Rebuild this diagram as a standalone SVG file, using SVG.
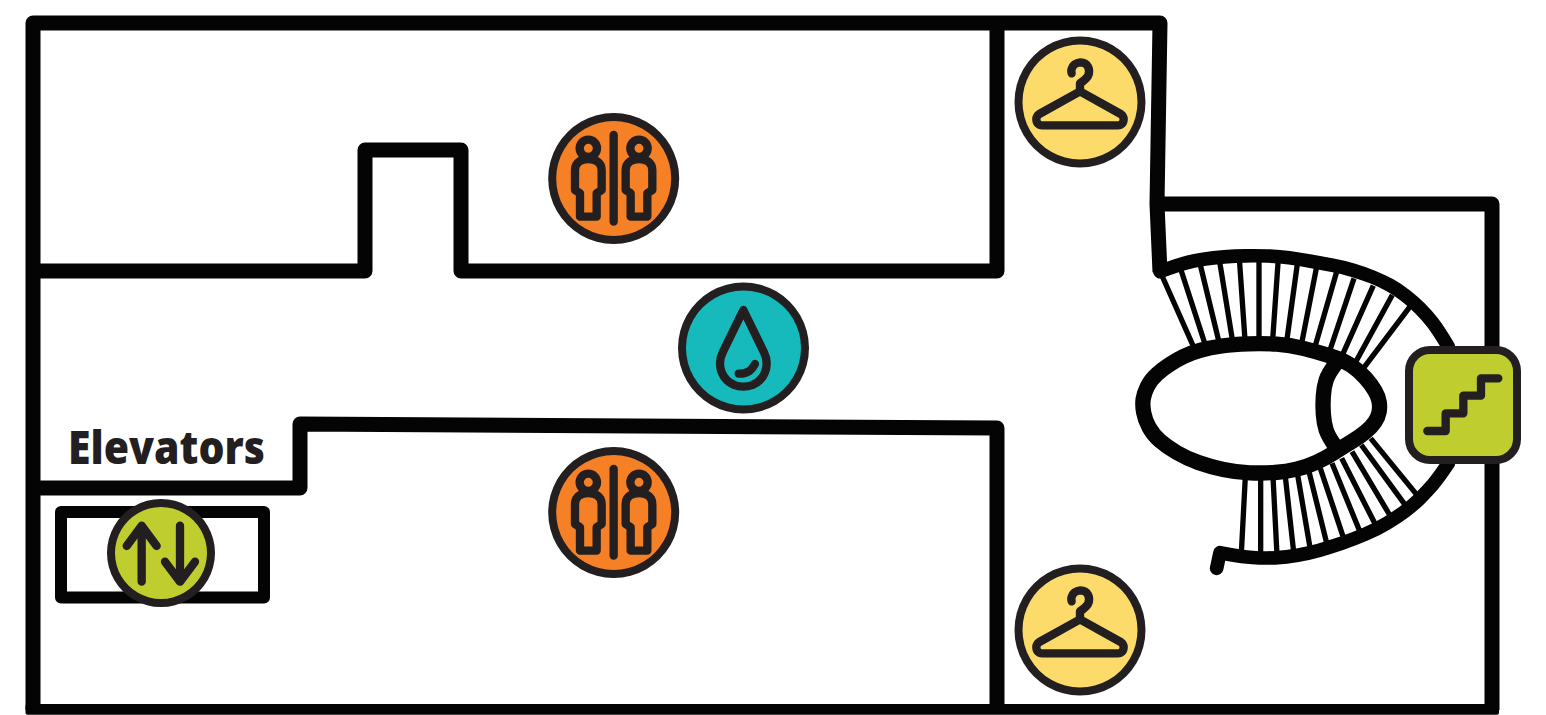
<svg xmlns="http://www.w3.org/2000/svg" xmlns:xlink="http://www.w3.org/1999/xlink" width="1546" height="715" viewBox="0 0 1546 715">
<style>
.wall{fill:none;stroke:#040404;stroke-width:15;stroke-linejoin:round;stroke-linecap:butt}
.tread{fill:none;stroke:#040404;stroke-width:16}
.flight{fill:none;stroke:#040404;stroke-width:41;stroke-linecap:round;stroke-linejoin:round}
.well{fill:none;stroke:#040404;stroke-width:46;stroke-linejoin:round}
.rim{stroke:#231f20;stroke-width:13}
.rim-small{stroke:#231f20;stroke-width:16}
.glyph{fill:none;stroke:#231f20;stroke-width:25;stroke-linejoin:round;stroke-linecap:round}
.orange{fill:#f58026}.teal{fill:#17babc}.yellow{fill:#fcdb6b}.lime{fill:#bfce2e}
text{font-family:"Open Sans","Noto Sans","Liberation Sans",sans-serif;font-weight:800;fill:#231f20}
</style>
<defs>
<path id="disc" d="M100,0A100,100 0 0 1 96.6,25.900A100,100 0 0 1 86.6,50A100,100 0 0 1 70.700,70.700A100,100 0 0 1 50,86.600A100,100 0 0 1 25.900,96.600A100,100 0 0 1 0,100A100,100 0 0 1 -25.900,96.600A100,100 0 0 1 -50,86.600A100,100 0 0 1 -70.700,70.700A100,100 0 0 1 -86.600,50A100,100 0 0 1 -96.600,25.900A100,100 0 0 1 -100,0A100,100 0 0 1 -96.600,-25.900A100,100 0 0 1 -86.600,-50A100,100 0 0 1 -70.700,-70.700A100,100 0 0 1 -50,-86.600A100,100 0 0 1 -25.900,-96.600A100,100 0 0 1 0,-100A100,100 0 0 1 25.900,-96.600A100,100 0 0 1 50,-86.600A100,100 0 0 1 70.700,-70.700A100,100 0 0 1 86.600,-50A100,100 0 0 1 96.600,-25.900A100,100 0 0 1 100,0Z"/>
<g id="restroom-glyph" class="glyph">
<circle cx="145" cy="130" r="26"/>
<path d="M120,335V265L105,255V195Q105,178 117,170Q128,162 145,162Q162,162 173,170Q185,178 185,195V255L170,265V335Z"/>
<circle cx="297" cy="130" r="26"/>
<path d="M272,335V265L257,255V195Q257,178 269,170Q280,162 297,162Q314,162 325,170Q337,178 337,195V255L322,265V335Z"/>
<path d="M221,90V350"/>
</g>
<g id="hanger-glyph" class="glyph">
<path d="M200,130Q197,118 203,110Q207,100 226,97Q243,97 249,110Q256,124 249,138Q243,148 225,160V182"/>
<path d="M225,184L347,252Q356,258 356,268Q356,280 347,284Q343,286 338,286H112Q107,286 103,284Q94,280 94,268Q94,258 103,252Z"/>
</g>
</defs>
<rect width="1546" height="715" fill="#fff"/>
<g id="walls">
<path class="wall" d="M33,710V23H1160L1157,204L1160,272"/>
<path class="wall" d="M1157,204H1492V710"/>
<path class="wall" d="M33,271H365V150H461V271H997V23"/>
<path class="wall" d="M33,488H300V424L997,428V710"/>
<rect x="25.500" y="704" width="1473.500" height="10.700" rx="2" fill="#040404"/>
<rect x="61" y="512" width="203" height="85.500" fill="none" stroke="#040404" stroke-width="12" stroke-linejoin="round"/>
</g>
<g id="stairs" transform="translate(1130 190) scale(.33333)">
<g class="tread">
<path d="M95,255L195,480M153,240L226,465M211,225L268,460M269,215L308,455M328,205L345,450M387,205V450M445,205L428,450M503,215L470,455M560,230L515,460M620,245L555,470M672,265L600,480M730,287L635,500M787,315L675,520M840,350L700,535"/>
<path d="M346,860L334,1090M392,860V1095M429,860L441,1095M466,860L492,1095M503,855L543,1090M537,845L594,1075M571,835L646,1060M606,820L696,1040M635,805L742,1015M666,785L788,990M694,765L833,955M722,745L865,920"/>
</g>
<path class="flight" d="M90,245L112.500,236.500Q135,228 162.500,220Q190,212 220,207.500Q250,203 282.500,200.500Q315,198 347.500,197.500Q380,197 412.500,198Q445,199 477.500,203.500Q510,208 542.500,214Q575,220 607.500,226Q640,232 670,241Q700,250 727.500,261Q755,272 780,286Q805,300 827.500,317.500Q850,335 870,355Q890,375 907.500,397.500Q925,420 955,470"/>
<path class="flight" d="M260,1135L270,1088L302.500,1094Q335,1100 367.500,1102.500Q400,1105 435,1103.500Q470,1102 502.500,1096Q535,1090 567.500,1081Q600,1072 635,1060Q670,1048 705,1033Q740,1018 770,1000Q800,982 825,963.500Q850,945 870,925Q890,905 907.500,885Q925,865 955,820"/>
<path class="well" style="fill:#fff" d="M39.500,627.500Q42,610 52,590Q62,570 81,552.500Q100,535 120,522.500Q140,510 160,500Q180,490 210,481.500Q240,473 275,468Q310,463 355,461.500Q400,460 440,462.500Q480,465 520,475Q560,485 600,497.500Q640,510 665,527.500Q690,545 707.500,565Q725,585 735,602.500Q745,620 747.500,635Q750,650 747.500,665Q745,680 735,695Q725,710 707.500,725Q690,740 665,755Q640,770 615,786.500Q590,803 560,816.500Q530,830 500,837.500Q470,845 435,847.500Q400,850 360,848.500Q320,847 280,838.500Q240,830 205,817.500Q170,805 140,787.500Q110,770 90,752.500Q70,735 57.500,712.500Q45,690 41,667.500Q37,645 39.500,627.500Z"/>
<path class="well" d="M618,520Q595,550 588.500,570Q582,590 580,617.500Q578,645 580,672.500Q582,700 588.500,720Q595,740 618,772"/>
</g>
<g id="restroom-top">
<use xlink:href="#disc" href="#disc" class="orange rim" transform="translate(613.700 178.500) scale(.615)"/>
<use xlink:href="#restroom-glyph" href="#restroom-glyph" transform="translate(540 105) scale(.33333)"/>
</g>
<g id="restroom-bottom">
<use xlink:href="#disc" href="#disc" class="orange rim" transform="translate(613.700 512.500) scale(.615)"/>
<use xlink:href="#restroom-glyph" href="#restroom-glyph" transform="translate(540 439) scale(.33333)"/>
</g>
<g id="water">
<use xlink:href="#disc" href="#disc" class="teal rim" transform="translate(743.500 348) scale(.615)"/>
<g class="glyph" transform="translate(670 275) scale(.33333)">
<path d="M220,105L158,232Q150,248 150,265Q150,280 155,292Q160,305 170,315Q180,325 193,330Q205,335 220,335Q235,335 247,330Q260,325 270,315Q280,305 285,292Q290,280 290,265Q290,248 282,232Z"/>
<path d="M206,296Q225,297 237,289Q248,281 255,267"/>
</g>
</g>
<g id="coat-top">
<use xlink:href="#disc" href="#disc" class="yellow rim" transform="translate(1080 102) scale(.615)"/>
<use xlink:href="#hanger-glyph" href="#hanger-glyph" transform="translate(1005 30) scale(.33333)"/>
</g>
<g id="coat-bottom">
<use xlink:href="#disc" href="#disc" class="yellow rim" transform="translate(1080 630) scale(.615)"/>
<use xlink:href="#hanger-glyph" href="#hanger-glyph" transform="translate(1005 558) scale(.33333)"/>
</g>
<g id="elevator">
<use xlink:href="#disc" href="#disc" class="lime rim-small" transform="translate(161 553) scale(.5)"/>
<g class="glyph" transform="translate(30 410) scale(.33333)">
<path d="M335,347V515M290,408L335,347L380,408"/>
<path d="M450,347V515M405,455L450,515L495,455"/>
</g>
</g>
<g id="elevators-label"><text x="68" y="464" font-size="46" textLength="197" lengthAdjust="spacingAndGlyphs">Elevators</text></g>
<g id="stairs-icon">
<rect class="lime" style="stroke:#231f20;stroke-width:8" x="1409" y="350" width="108" height="110" rx="21"/>
<path class="glyph" transform="translate(1395 335) scale(.33333)" d="M97,288H152V235H205V182H258V130H310"/>
</g>
</svg>
